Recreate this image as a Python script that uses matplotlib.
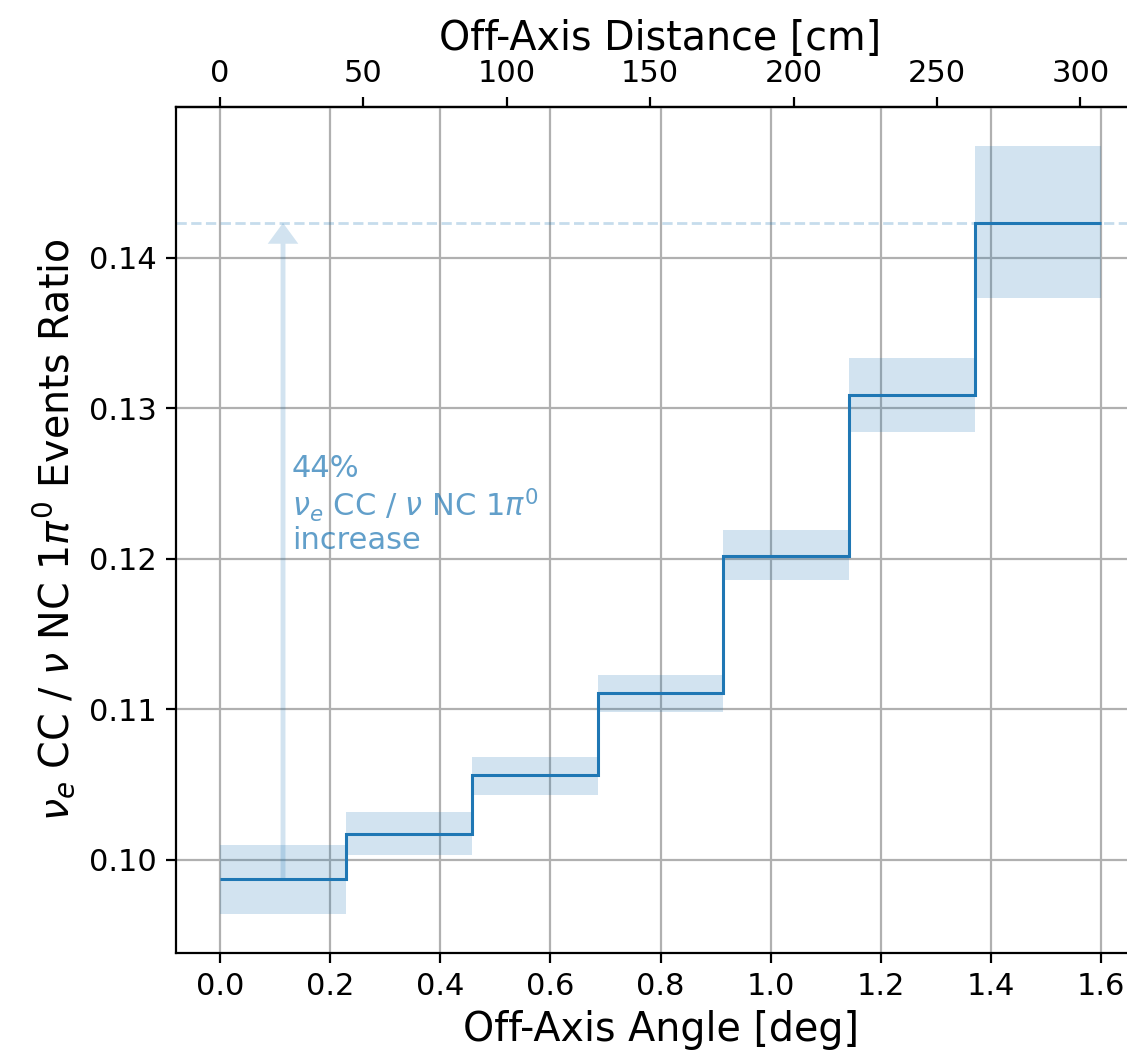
import numpy as np
import matplotlib.pyplot as plt

# Off-axis bins (deg) and nu_e CC / nu NC 1pi0 ratio per bin
bin_edges = [0.0, 0.2286, 0.4571, 0.6857, 0.9143, 1.1429, 1.3714, 1.6]
ratio = [0.0987, 0.1017, 0.1056, 0.1111, 0.1202, 0.1309, 0.1423]
ratio_lo = [0.0964, 0.1003, 0.1043, 0.1098, 0.1186, 0.1284, 0.1373]
ratio_hi = [0.1010, 0.1032, 0.1068, 0.1123, 0.1219, 0.1333, 0.1474]

top_ticks = [0, 50, 100, 150, 200, 250, 300]
baseline_dist = 11000.0  # cm from target

annot_text = "44%\n$\\nu_e$ CC / $\\nu$ NC 1$\\pi^0$\nincrease"

blue = "#1f77b4"

def deg2cm(a):
    return np.deg2rad(a) * baseline_dist

def cm2deg(d):
    return np.rad2deg(d / baseline_dist)

edges = np.array(bin_edges)
lo = np.array(ratio_lo)
hi = np.array(ratio_hi)
centers = 0.5 * (edges[:-1] + edges[1:])
widths = np.diff(edges)

fig = plt.figure(figsize=(11.27, 10.51), dpi=100)
ax = fig.add_axes([0.1562, 0.0932, 0.8598, 0.8050])

ax.bar(centers, hi - lo, bottom=lo, width=widths, color=blue, alpha=0.2,
       linewidth=0, zorder=2)
ax.stairs(ratio, edges, baseline=None, color=blue, linewidth=2.2, zorder=3)

# reference line at the last bin and increase arrow
ax.axhline(ratio[-1], color=blue, alpha=0.25, linestyle="--", linewidth=2)
ax.annotate("", xy=(centers[0], ratio[-1]), xytext=(centers[0], ratio[0]),
            arrowprops=dict(width=3.5, headwidth=22, headlength=15, shrink=0,
                            color=blue, alpha=0.2, linewidth=0))
ax.text(0.13, 0.1236, annot_text, color=blue, alpha=0.7, fontsize=22,
        ha="left", va="center", linespacing=1.1)

ax.set_xlim(-0.08, 1.68)
ax.set_ylim(0.0938, 0.15)
ax.set_yticks([0.10, 0.11, 0.12, 0.13, 0.14])
ax.grid(True, color="#b0b0b0", linewidth=1.6)
ax.set_axisbelow(True)
ax.tick_params(labelsize=22, length=7, width=1.6, pad=7)
ax.set_xlabel("Off-Axis Angle [deg]", fontsize=28.5, labelpad=6)
ax.set_ylabel("$\\nu_e$ CC / $\\nu$ NC 1$\\pi^0$ Events Ratio", fontsize=28.5,
              labelpad=8)

top = ax.secondary_xaxis("top", functions=(deg2cm, cm2deg))
top.set_xticks(top_ticks)
top.tick_params(labelsize=22, length=7, width=1.6, pad=7)
top.set_xlabel("Off-Axis Distance [cm]", fontsize=28.5, labelpad=6)
top.spines["top"].set_linewidth(1.6)

for sp in ax.spines.values():
    sp.set_linewidth(1.6)

fig.savefig("out.png", dpi=100)
